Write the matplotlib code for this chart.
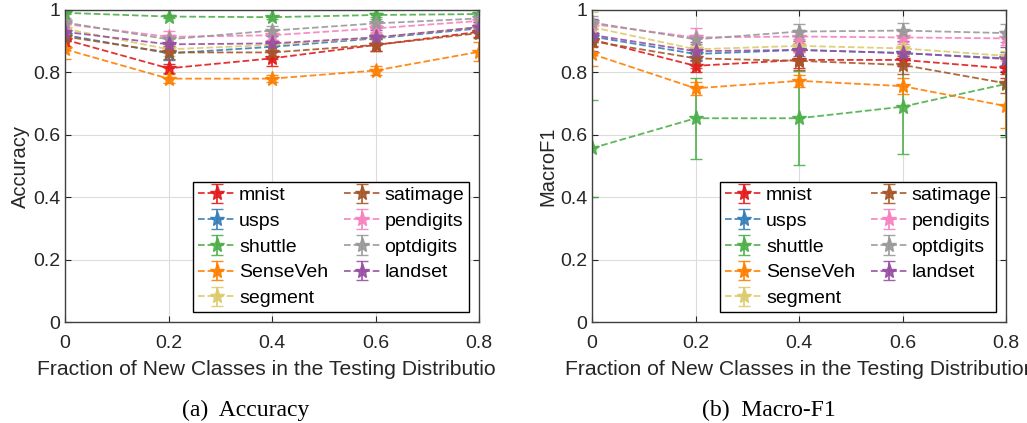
import matplotlib
matplotlib.use("Agg")
import matplotlib.pyplot as plt
from matplotlib.transforms import Bbox, TransformedBbox

# fraction of new classes
frac = [0, 0.2, 0.4, 0.6, 0.8]
names = ["mnist", "usps", "shuttle", "SenseVeh", "segment",
         "satimage", "pendigits", "optdigits", "landset"]
colors = ["#e41a1c", "#377eb8", "#4daf4a", "#ff7f00", "#dccb6a",
          "#a65628", "#f781bf", "#999999", "#984ea3"]

# accuracy means / std
acc_mnist = [0.905, 0.813, 0.845, 0.888, 0.930]
acc_usps = [0.920, 0.861, 0.882, 0.909, 0.941]
acc_shuttle = [0.991, 0.979, 0.977, 0.984, 0.987]
acc_senseveh = [0.874, 0.780, 0.780, 0.806, 0.866]
acc_segment = [0.940, 0.874, 0.888, 0.912, 0.945]
acc_satimage = [0.915, 0.864, 0.864, 0.888, 0.926]
acc_pendigits = [0.955, 0.914, 0.919, 0.941, 0.965]
acc_optdigits = [0.960, 0.906, 0.934, 0.957, 0.973]
acc_landset = [0.930, 0.890, 0.893, 0.912, 0.945]

acc_err_mnist = [0.02, 0.015, 0.025, 0.02, 0.015]
acc_err_usps = [0.015, 0.02, 0.015, 0.015, 0.01]
acc_err_shuttle = [0.005, 0.005, 0.005, 0.005, 0.005]
acc_err_senseveh = [0.03, 0.015, 0.012, 0.015, 0.03]
acc_err_segment = [0.02, 0.02, 0.015, 0.015, 0.01]
acc_err_satimage = [0.015, 0.02, 0.02, 0.02, 0.015]
acc_err_pendigits = [0.015, 0.02, 0.015, 0.01, 0.01]
acc_err_optdigits = [0.015, 0.015, 0.015, 0.015, 0.01]
acc_err_landset = [0.03, 0.025, 0.025, 0.025, 0.015]

# macro-F1 means / std
f1_mnist = [0.905, 0.821, 0.840, 0.840, 0.813]
f1_usps = [0.915, 0.859, 0.872, 0.862, 0.845]
f1_shuttle = [0.557, 0.653, 0.653, 0.690, 0.763]
f1_senseveh = [0.859, 0.749, 0.773, 0.756, 0.692]
f1_segment = [0.945, 0.874, 0.885, 0.877, 0.853]
f1_satimage = [0.900, 0.845, 0.837, 0.824, 0.765]
f1_pendigits = [0.955, 0.912, 0.915, 0.912, 0.909]
f1_optdigits = [0.960, 0.906, 0.931, 0.934, 0.926]
f1_landset = [0.920, 0.868, 0.872, 0.862, 0.843]

f1_err_mnist = [0.02, 0.02, 0.025, 0.02, 0.03]
f1_err_usps = [0.015, 0.02, 0.02, 0.02, 0.02]
f1_err_shuttle = [0.155, 0.13, 0.15, 0.153, 0.17]
f1_err_senseveh = [0.04, 0.02, 0.02, 0.025, 0.07]
f1_err_segment = [0.05, 0.015, 0.02, 0.02, 0.015]
f1_err_satimage = [0.02, 0.03, 0.03, 0.03, 0.03]
f1_err_pendigits = [0.015, 0.03, 0.02, 0.02, 0.02]
f1_err_optdigits = [0.02, 0.015, 0.025, 0.025, 0.03]
f1_err_landset = [0.05, 0.03, 0.03, 0.04, 0.04]

acc = [acc_mnist, acc_usps, acc_shuttle, acc_senseveh, acc_segment,
       acc_satimage, acc_pendigits, acc_optdigits, acc_landset]
acc_err = [acc_err_mnist, acc_err_usps, acc_err_shuttle, acc_err_senseveh, acc_err_segment,
           acc_err_satimage, acc_err_pendigits, acc_err_optdigits, acc_err_landset]
f1 = [f1_mnist, f1_usps, f1_shuttle, f1_senseveh, f1_segment,
      f1_satimage, f1_pendigits, f1_optdigits, f1_landset]
f1_err = [f1_err_mnist, f1_err_usps, f1_err_shuttle, f1_err_senseveh, f1_err_segment,
          f1_err_satimage, f1_err_pendigits, f1_err_optdigits, f1_err_landset]

plt.rcParams["font.family"] = ["Liberation Sans", "DejaVu Sans"]

fig = plt.figure(figsize=(10.27, 4.23), dpi=100)
ax1 = fig.add_axes([65 / 1027, 101 / 423, 414 / 1027, 312 / 423])
ax2 = fig.add_axes([592 / 1027, 101 / 423, 414 / 1027, 312 / 423])


def panel(ax, vals, errs, ylab):
    for v, e, c, n in zip(vals, errs, colors, names):
        ax.errorbar(frac, v, yerr=e, color=c, ls="--", lw=1.3, marker="*",
                    ms=11, capsize=4, elinewidth=1.3, alpha=0.9, label=n)
    ax.set_xlim(0, 0.8)
    ax.set_ylim(0, 1)
    ax.set_xticks(frac)
    ax.set_xticklabels(["0", "0.2", "0.4", "0.6", "0.8"], fontsize=14)
    ax.set_yticks([0, 0.2, 0.4, 0.6, 0.8, 1])
    ax.set_yticklabels(["0", "0.2", "0.4", "0.6", "0.8", "1"], fontsize=14)
    ax.tick_params(direction="in", top=True, right=True, length=4, colors="#262626",
                   labelcolor="#262626")
    ax.tick_params(axis="x", pad=9)
    ax.grid(True, color="#dcdcdc", lw=0.8)
    for s in ax.spines.values():
        s.set_color("#404040")
        s.set_linewidth(1.0)
    ax.set_ylabel(ylab, fontsize=14.5, color="#262626", labelpad=2)
    ax.legend(ncol=2, loc="lower right", bbox_to_anchor=(0.976, 0.032), fontsize=14,
              frameon=True, fancybox=False, edgecolor="black", framealpha=1,
              handlelength=1.9, handletextpad=0.2, labelspacing=0.42,
              columnspacing=0.8, borderpad=0.25, borderaxespad=0)


panel(ax1, acc, acc_err, "Accuracy")
panel(ax2, f1, f1_err, "MacroF1")

xl = "Fraction of New Classes in the Testing Distribution"
t1 = fig.text(37 / 1027, 1 - 369 / 423, xl, fontsize=15.2,
              color="#262626", va="center", ha="left")
t1.set_clip_box(TransformedBbox(Bbox([[0, 0], [497 / 1027, 1]]), fig.transFigure))
t1.set_clip_on(True)
fig.text(565 / 1027, 1 - 369 / 423, xl, fontsize=15.2,
         color="#262626", va="center", ha="left")

fig.text(246 / 1027, 1 - 410 / 423, "(a)  Accuracy", family="Liberation Serif",
         fontsize=17, ha="center", va="center")
fig.text(769 / 1027, 1 - 410 / 423, "(b)  Macro-F1", family="Liberation Serif",
         fontsize=17, ha="center", va="center")

fig.savefig("out.png", dpi=100)
